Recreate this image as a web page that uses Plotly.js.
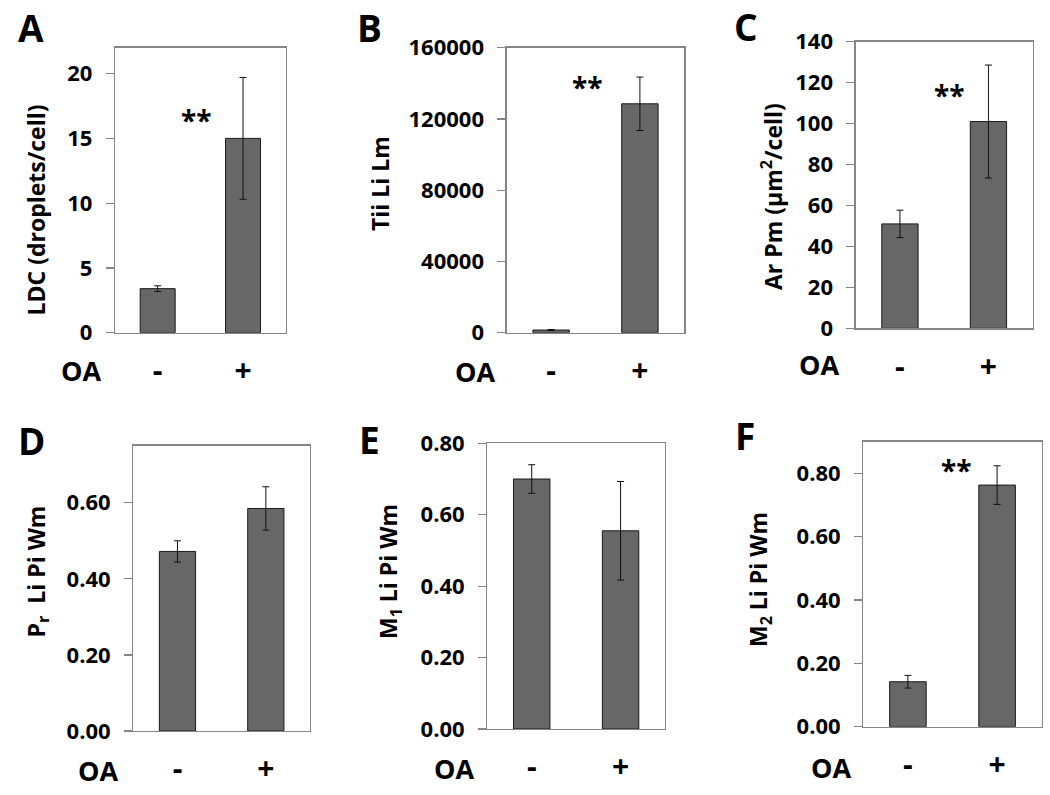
<!DOCTYPE html>
<html>
<head>
<meta charset="utf-8">
<script src="https://cdn.plot.ly/plotly-3.0.1.min.js"></script>
<style>html,body{margin:0;padding:0;background:#fff;}#chart{width:1050px;height:795px;}</style>
</head>
<body>
<div id="chart"></div>
<script>
// ---- data ----
const categories = ['-', '+'];
const ldcMean = [3.4, 15.0];
const ldcErr = [0.22, 4.7];
const tliMean = [1500, 128500];
const tliErr = [300, 15000];
const areaMean = [51, 101];
const areaErr = [6.7, 27.6];
const prMean = [0.472, 0.585];
const prErr = [0.028, 0.057];
const m1Mean = [0.70, 0.555];
const m1Err = [0.04, 0.138];
const m2Mean = [0.142, 0.763];
const m2Err = [0.02, 0.061];

const ticksA = [0, 5, 10, 15, 20];
const ticksB = [0, 40000, 80000, 120000, 160000];
const ticksC = [0, 20, 40, 60, 80, 100, 120, 140];
const ticksD = [0, 0.2, 0.4, 0.6];
const ticksE = [0, 0.2, 0.4, 0.6, 0.8];
const ticksF = [0, 0.2, 0.4, 0.6, 0.8];

const panelLetters = ['A', 'B', 'C', 'D', 'E', 'F'];
const yTitles = ['LDC (droplets/cell)', 'Tii Li Lm', 'Ar Pm (µm<sup>2</sup>/cell)',
                 'P<sub>r</sub>  Li Pi Wm', 'M<sub>1</sub> Li Pi Wm', 'M<sub>2</sub> Li Pi Wm'];
const xGroupLabel = 'OA';
const sigMark = '**';

// ---- layout geometry (pixels) ----
const W = 1050, H = 795;
const panels = [
  {mean: ldcMean, err: ldcErr, ticks: ticksA, range: [0, 22], dec: 0, box: [115, 285.7, 47.7, 332.7], title: [35, 210.5], letter: [31, 28], oa: [81, 370], sig: [0.46, 16.4]},
  {mean: tliMean, err: tliErr, ticks: ticksB, range: [0, 160000], dec: 0, box: [506.7, 684.3, 47.7, 332.7], title: [380, 184], letter: [369, 28], oa: [475, 371], sig: [0.41, 137800]},
  {mean: areaMean, err: areaErr, ticks: ticksC, range: [0, 140], dec: 0, box: [855.7, 1032.7, 41.7, 328.3], title: [771.5, 196.5], letter: [746, 27], oa: [819, 364], sig: [0.56, 114]},
  {mean: prMean, err: prErr, ticks: ticksD, range: [0, 0.75], dec: 2, box: [133.3, 310, 445.7, 731], title: [37, 571.5], letter: [31, 440], oa: [97.5, 770], sig: null},
  {mean: m1Mean, err: m1Err, ticks: ticksE, range: [0, 0.8], dec: 2, box: [487.3, 665, 443.3, 729], title: [389, 572], letter: [369, 439], oa: [453.5, 768], sig: null},
  {mean: m2Mean, err: m2Err, ticks: ticksF, range: [0, 0.9], dec: 2, box: [863.3, 1041.7, 441.7, 726.7], title: [759, 580], letter: [745, 435], oa: [830.5, 767], sig: [0.54, 0.81]}
];

const FONT = '"Open Sans", "Noto Sans", sans-serif';
const axisGray = '#868686';
const bold = s => '<b>' + s + '</b>';
const traces = [];
const layout = {
  width: W, height: H,
  margin: {l: 0, r: 0, t: 0, b: 0},
  paper_bgcolor: '#ffffff', plot_bgcolor: '#ffffff',
  showlegend: false,
  bargap: 0.59,
  font: {family: FONT, color: '#000000'},
  annotations: []
};

panels.forEach((p, i) => {
  const n = i + 1;
  const xa = n === 1 ? 'xaxis' : 'xaxis' + n;
  const ya = n === 1 ? 'yaxis' : 'yaxis' + n;
  const xr = n === 1 ? 'x' : 'x' + n;
  const yr = n === 1 ? 'y' : 'y' + n;
  traces.push({
    type: 'bar', x: categories, y: p.mean, xaxis: xr, yaxis: yr,
    marker: {color: '#676767', line: {color: '#1a1a1a', width: 1}},
    error_y: {type: 'data', array: p.err, visible: true, color: '#111111', thickness: 1, width: 3.5},
    hoverinfo: 'skip'
  });
  const [l, r, t, b] = p.box;
  layout[xa] = {
    domain: [l / W, r / W], anchor: yr, type: 'category', range: [-0.5, 1.5],
    tickmode: 'array', tickvals: categories, ticktext: categories.map(bold),
    showgrid: false, zeroline: false, showline: true, mirror: true,
    linecolor: axisGray, linewidth: 1.3, ticks: '', ticklabelstandoff: 11,
    tickfont: {family: FONT, size: 30, color: '#000'}, fixedrange: true
  };
  layout[ya] = {
    domain: [1 - b / H, 1 - t / H], anchor: xr, range: p.range,
    tickmode: 'array', tickvals: p.ticks, ticktext: p.ticks.map(v => bold(v.toFixed(p.dec))),
    showgrid: false, zeroline: false, showline: true, mirror: true,
    linecolor: axisGray, linewidth: 1.3, ticks: 'outside', ticklen: 8, tickcolor: axisGray, tickwidth: 1.3,
    ticklabelstandoff: 9,
    tickfont: {family: FONT, size: 22, color: '#000'}, fixedrange: true
  };
  layout.annotations.push({
    xref: 'paper', yref: 'paper', x: p.title[0] / W, y: 1 - p.title[1] / H,
    text: bold(yTitles[i]), textangle: -90, showarrow: false,
    xanchor: 'center', yanchor: 'middle',
    font: {family: FONT, size: 23, color: '#000'}
  });
  layout.annotations.push({
    xref: 'paper', yref: 'paper', x: p.letter[0] / W, y: 1 - p.letter[1] / H,
    text: bold(panelLetters[i]), showarrow: false, xanchor: 'center', yanchor: 'middle',
    font: {family: FONT, size: 37, color: '#000'}
  });
  layout.annotations.push({
    xref: 'paper', yref: 'paper', x: p.oa[0] / W, y: 1 - p.oa[1] / H,
    text: bold(xGroupLabel), showarrow: false, xanchor: 'center', yanchor: 'middle',
    font: {family: FONT, size: 27, color: '#000'}
  });
  if (p.sig) {
    layout.annotations.push({
      xref: xr, yref: yr, x: p.sig[0], y: p.sig[1],
      text: bold(sigMark), showarrow: false, xanchor: 'center', yanchor: 'middle',
      font: {family: FONT, size: 28, color: '#000'}
    });
  }
});

Plotly.newPlot('chart', traces, layout, {displayModeBar: false, staticPlot: true});
</script>
</body>
</html>
